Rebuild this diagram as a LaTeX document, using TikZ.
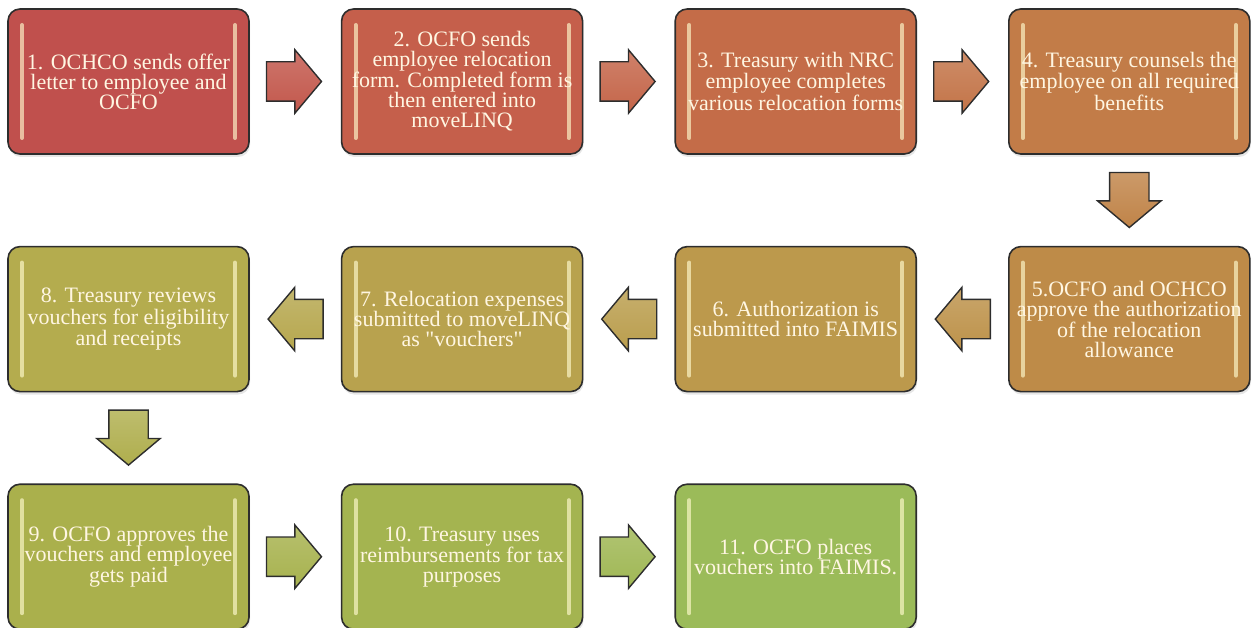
\documentclass[tikz,border=0pt]{standalone}
\usepackage{fontspec}
\setmainfont{Liberation Serif}[Ligatures=TeXOff]
\usetikzlibrary{positioning,shapes.arrows,shadows,calc}
\definecolor{stA}{RGB}{192,80,77}
\definecolor{stB}{RGB}{197,95,75}
\definecolor{stC}{RGB}{196,108,72}
\definecolor{stD}{RGB}{194,124,72}
\definecolor{stE}{RGB}{190,139,72}
\definecolor{stF}{RGB}{188,153,76}
\definecolor{stG}{RGB}{184,162,78}
\definecolor{stH}{RGB}{180,172,78}
\definecolor{stI}{RGB}{170,176,76}
\definecolor{stJ}{RGB}{164,180,80}
\definecolor{stK}{RGB}{155,187,89}
\definecolor{edge}{RGB}{45,45,45}
\definecolor{cream}{RGB}{255,246,226}
\definecolor{hilite}{RGB}{255,250,205}
\colorlet{arA}{stA!50!stB}
\colorlet{arB}{stB!50!stC}
\colorlet{arC}{stC!50!stD}
\colorlet{arD}{stD!50!stE}
\colorlet{arE}{stE!50!stF}
\colorlet{arF}{stF!50!stG}
\colorlet{arG}{stG!50!stH}
\colorlet{arH}{stH!50!stI}
\colorlet{arI}{stI!50!stJ}
\colorlet{arJ}{stJ!50!stK}
\tikzset{
  stage/.style={draw=edge, line width=1.6pt, rounded corners=12pt, fill=#1, minimum width=241pt, minimum height=145pt, inner sep=0pt, align=center, text=cream, font=\fontsize{22}{20}\selectfont,
    drop shadow={opacity=0.2, shadow xshift=1pt, shadow yshift=-3pt},
    path picture={
      \draw[#1!35!hilite, line width=4pt, line cap=round] ([xshift=14pt,yshift=-16pt]path picture bounding box.north west) -- ([xshift=14pt,yshift=16pt]path picture bounding box.south west);
      \draw[#1!35!hilite, line width=4pt, line cap=round] ([xshift=-14pt,yshift=-16pt]path picture bounding box.north east) -- ([xshift=-14pt,yshift=16pt]path picture bounding box.south east);
    }},
  flow/.style={single arrow, draw=edge, line width=1.4pt, top color=#1!82!white, bottom color=#1, anchor=tail, minimum height=55pt, inner xsep=0pt, inner ysep=19pt, single arrow head extend=12pt, single arrow head indent=0pt, single arrow tip angle=100},
}
\begin{document}
\begin{tikzpicture}
\useasboundingbox (0,0) rectangle (1251pt,-628pt);

\node[stage=stA] (s1) at (128.5pt,-81.5pt) {1. OCHCO sends offer\\letter to employee and\\OCFO};
\node[stage=stB, right=91pt of s1] (s2) {2. OCFO sends\\employee relocation\\form. Completed form is\\then entered into\\moveLINQ};
\node[stage=stC, right=91pt of s2] (s3) {3. Treasury with NRC\\employee completes\\various relocation forms};
\node[stage=stD, right=91pt of s3] (s4) {4. Treasury counsels the\\employee on all required\\benefits};
\node[stage=stE, below=91pt of s4] (s5) {5.OCFO and OCHCO\\approve the authorization\\of the relocation\\allowance};
\node[stage=stF, left=91pt of s5] (s6) {6. Authorization is\\submitted into FAIMIS};
\node[stage=stG, left=91pt of s6] (s7) {7. Relocation expenses\\submitted to moveLINQ\\as "vouchers"};
\node[stage=stH, left=91pt of s7] (s8) {8. Treasury reviews\\vouchers for eligibility\\and receipts};
\node[stage=stI, below=91pt of s8] (s9) {9. OCFO approves the\\vouchers and employee\\gets paid};
\node[stage=stJ, right=91pt of s9] (s10) {10. Treasury uses\\reimbursements for tax\\purposes};
\node[stage=stK, right=91pt of s10] (s11) {11. OCFO places\\vouchers into FAIMIS.};

\node[flow=arA] (a1) at ($(s1.east)!16pt!(s2.west)$) {};
\node[flow=arB] (a2) at ($(s2.east)!16pt!(s3.west)$) {};
\node[flow=arC] (a3) at ($(s3.east)!16pt!(s4.west)$) {};
\node[flow=arD, rotate=-90] (a4) at ($(s4.south)!17pt!(s5.north)$) {};
\node[flow=arE, rotate=180] (a5) at ($(s5.west)!17pt!(s6.east)$) {};
\node[flow=arF, rotate=180] (a6) at ($(s6.west)!17pt!(s7.east)$) {};
\node[flow=arG, rotate=180] (a7) at ($(s7.west)!17pt!(s8.east)$) {};
\node[flow=arH, rotate=-90] (a8) at ($(s8.south)!17pt!(s9.north)$) {};
\node[flow=arI] (a9) at ($(s9.east)!16pt!(s10.west)$) {};
\node[flow=arJ] (a10) at ($(s10.east)!16pt!(s11.west)$) {};

\end{tikzpicture}
\end{document}
